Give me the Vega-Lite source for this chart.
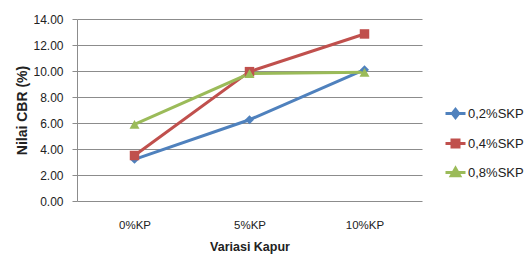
{
  "$schema": "https://vega.github.io/schema/vega-lite/v6.json",
  "width": 345,
  "height": 182,
  "autosize": "none",
  "padding": {"left": 77, "top": 19, "right": 106, "bottom": 59},
  "background": "white",
  "config": {"view": {"stroke": null}},
  "data": {"values": [
    {"kp": "0%KP", "skp": "0,2%SKP", "cbr": 3.2},
    {"kp": "5%KP", "skp": "0,2%SKP", "cbr": 6.25},
    {"kp": "10%KP", "skp": "0,2%SKP", "cbr": 10.1},
    {"kp": "0%KP", "skp": "0,4%SKP", "cbr": 3.5},
    {"kp": "5%KP", "skp": "0,4%SKP", "cbr": 9.95},
    {"kp": "10%KP", "skp": "0,4%SKP", "cbr": 12.85},
    {"kp": "0%KP", "skp": "0,8%SKP", "cbr": 5.9},
    {"kp": "5%KP", "skp": "0,8%SKP", "cbr": 9.8},
    {"kp": "10%KP", "skp": "0,8%SKP", "cbr": 9.9}
  ]},
  "encoding": {
    "x": {
      "field": "kp", "type": "ordinal", "sort": ["0%KP", "5%KP", "10%KP"],
      "scale": {"type": "point", "padding": 0.5},
      "axis": {
        "title": "Variasi Kapur", "domain": false, "ticks": false, "labelAngle": 0,
        "labelFont": "Liberation Sans", "labelFontSize": 11.5, "labelColor": "#222",
        "labelPadding": 18, "titleFont": "Liberation Sans", "titleFontSize": 12.5,
        "titleFontWeight": "bold", "titleColor": "#222", "titlePadding": 10, "grid": false
      }
    },
    "y": {
      "field": "cbr", "type": "quantitative",
      "scale": {"domain": [0, 14], "nice": false},
      "axis": {
        "title": "Nilai CBR (%)", "values": [0, 2, 4, 6, 8, 10, 12, 14], "format": ".2f",
        "domainColor": "#8c8c8c", "tickColor": "#8c8c8c", "tickSize": 5,
        "gridColor": "#8c8c8c", "gridWidth": 1.2,
        "labelFont": "Liberation Sans", "labelFontSize": 12, "labelColor": "#222",
        "labelPadding": 9,
        "titleFont": "Liberation Sans", "titleFontSize": 14, "titleFontWeight": "bold",
        "titleColor": "#222", "titleX": -55, "titleY": 91, "titleBaseline": "middle",
        "titleAlign": "center", "titleAngle": -90
      }
    },
    "color": {
      "field": "skp", "type": "nominal",
      "scale": {"domain": ["0,2%SKP", "0,4%SKP", "0,8%SKP"], "range": ["#4F81BD", "#C0504D", "#9BBB59"]},
      "legend": {
        "title": null, "orient": "none", "legendX": 367, "legendY": 83,
        "symbolSize": 400, "rowPadding": 8, "labelOffset": 1,
        "labelFont": "Liberation Sans", "labelFontSize": 13, "labelColor": "#222",
        "symbolStrokeWidth": 3, "symbolOpacity": 1,
        "encode": {"symbols": {"update": {
          "shape": {"signal": "datum.value == '0,2%SKP' ? 'M-1,0H1M0,-0.4L0.32,0L0,0.4L-0.32,0Z' : datum.value == '0,4%SKP' ? 'M-1,0H1M-0.35,-0.35H0.35V0.35H-0.35Z' : 'M-1,0H1M0,-0.42L0.42,0.32H-0.42Z'"},
          "stroke": {"scale": "color", "field": "value"},
          "fill": {"scale": "color", "field": "value"},
          "strokeWidth": {"value": 3},
          "opacity": {"value": 1}
        }}}
      }
    }
  },
  "layer": [
    {"mark": {"type": "line", "strokeWidth": 3}},
    {
      "transform": [{"filter": "datum.skp == '0,2%SKP'"}],
      "mark": {"type": "point", "filled": true, "opacity": 1, "shape": "diamond", "size": 80}
    },
    {
      "transform": [{"filter": "datum.skp == '0,4%SKP'"}],
      "mark": {"type": "point", "filled": true, "opacity": 1, "shape": "square", "size": 90}
    },
    {
      "transform": [{"filter": "datum.skp == '0,8%SKP'"}],
      "mark": {"type": "point", "filled": true, "opacity": 1, "shape": "triangle-up", "size": 100}
    }
  ]
}
